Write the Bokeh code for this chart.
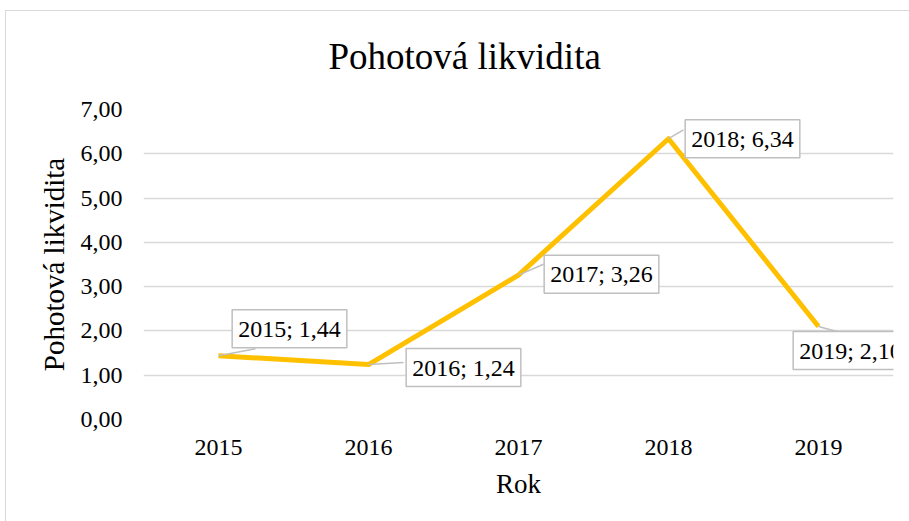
from bokeh.plotting import figure
from bokeh.models import Range1d, FixedTicker, Label
from bokeh.embed import file_html
from bokeh.resources import INLINE

# ---- data ----
years = [2015, 2016, 2017, 2018, 2019]
values = [1.44, 1.24, 3.26, 6.34, 2.10]
y_ticks = [0, 1, 2, 3, 4, 5, 6, 7]
y_tick_labels = ["0,00", "1,00", "2,00", "3,00", "4,00", "5,00", "6,00", "7,00"]
x_tick_labels = ["2015", "2016", "2017", "2018", "2019"]
title_text = "Pohotová likvidita"
x_title = "Rok"
y_title = "Pohotová likvidita"

# ---- label placement (screen pixels, +dy = up) ----
label_dx = [71, 95, 83, 74, 32]
label_dy = [27, -3, 1, 0, -24]
leader_dx = [37, 35, 25, 15, 22]
leader_dy = [7, 2, 11, 9, -6]

FONT = "Liberation Serif"
FRAME_W, FRAME_H = 750, 312
X_SPAN, Y_SPAN = 5.0, 7.0
px_x = FRAME_W / X_SPAN
px_y = FRAME_H / Y_SPAN

p = figure(width=904, height=521, output_backend="svg", toolbar_location=None,
           x_range=Range1d(2014.5, 2019.5), y_range=Range1d(0, 7),
           min_border_left=138, min_border_right=16,
           min_border_top=106, min_border_bottom=102)
p.outline_line_color = None
p.background_fill_color = "white"
p.border_fill_color = None

# title
p.title.text = title_text
p.title.text_font = FONT
p.title.text_font_size = "37px"
p.title.text_font_style = "normal"
p.title.text_color = "black"
p.title.align = "left"
p.title.offset = 185
p.title.standoff = 66

# axes
p.xaxis.ticker = FixedTicker(ticks=years)
p.xaxis.major_label_overrides = {y: s for y, s in zip(years, x_tick_labels)}
p.yaxis.ticker = FixedTicker(ticks=y_ticks)
p.yaxis.major_label_overrides = {t: s for t, s in zip(y_ticks, y_tick_labels)}
for ax in (p.xaxis, p.yaxis):
    ax.axis_line_color = None
    ax.major_tick_line_color = None
    ax.minor_tick_line_color = None
    ax.major_label_text_font = FONT
    ax.major_label_text_font_size = "24px"
    ax.major_label_text_color = "black"
    ax.axis_label_text_font = FONT
    ax.axis_label_text_font_style = "normal"
    ax.axis_label_text_color = "black"
p.xaxis.axis_label = x_title
p.xaxis.axis_label_text_font_size = "27px"
p.xaxis.major_label_standoff = 14
p.xaxis.axis_label_standoff = 11
p.yaxis.axis_label = y_title
p.yaxis.axis_label_text_font_size = "29px"
p.yaxis.major_label_standoff = 15
p.yaxis.axis_label_standoff = 8

p.xgrid.grid_line_color = None
p.ygrid.grid_line_color = "#d9d9d9"
p.ygrid.grid_line_width = 1.5

# line
p.line(years, values, line_color="#FFC000", line_width=5, line_join="round")

# leader lines
x1 = [x + dx / px_x for x, dx in zip(years, leader_dx)]
y1 = [v + dy / px_y for v, dy in zip(values, leader_dy)]
p.segment(x0=years, y0=values, x1=x1, y1=y1, line_color="#bfbfbf", line_width=1.5)

# data labels
for yr, v, dx, dy in zip(years, values, label_dx, label_dy):
    txt = f"{yr}; {v:.2f}".replace(".", ",")
    p.add_layout(Label(x=yr, y=v, x_offset=dx, y_offset=dy, text=txt,
                       text_font=FONT, text_font_size="24px", text_color="black",
                       text_align="center", text_baseline="middle",
                       background_fill_color="white", background_fill_alpha=1.0,
                       border_line_color="#bfbfbf", border_line_width=1.5,
                       padding=6))

# chart-area border (top and left rules) drawn behind the transparent canvas border
p.styles = {"margin-left": "5px",
            "background": ("linear-gradient(#d9d9d9, #d9d9d9) 0 10px / 100% 1px no-repeat, "
                           "linear-gradient(#d9d9d9, #d9d9d9) 0 10px / 1px 100% no-repeat, white")}

open("out.html", "w").write(file_html(p, INLINE))
